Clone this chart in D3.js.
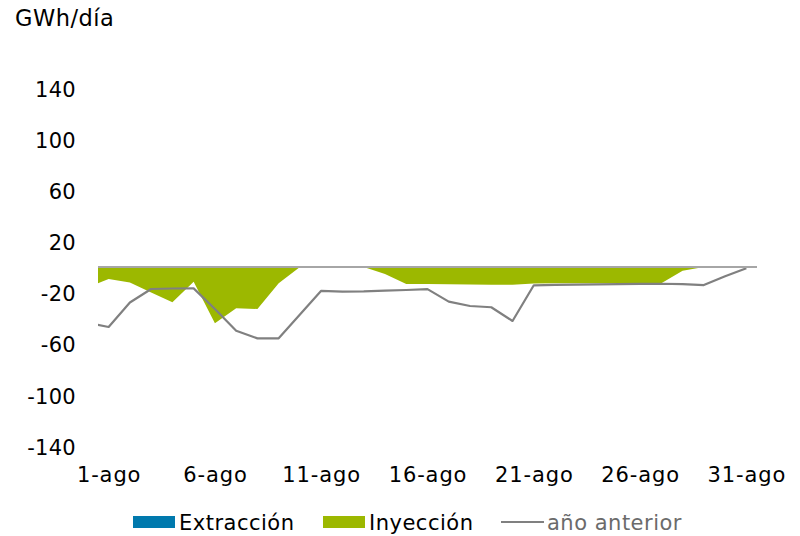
<!DOCTYPE html>
<html>
<head>
<meta charset="utf-8">
<script src="https://cdn.jsdelivr.net/npm/d3@7"></script>
<style>
  html, body { margin: 0; padding: 0; background: #ffffff; }
  svg { display: block; }
  text { font-family: "DejaVu Sans", Verdana, sans-serif; }
</style>
</head>
<body>
<svg id="chart" width="800" height="536"></svg>
<script>
// Daily values, GWh/día (index 0 is 31-jul, the day before the axis starts)
const dias = ["31-jul",
  "1-ago","2-ago","3-ago","4-ago","5-ago","6-ago","7-ago","8-ago","9-ago","10-ago",
  "11-ago","12-ago","13-ago","14-ago","15-ago","16-ago","17-ago","18-ago","19-ago","20-ago",
  "21-ago","22-ago","23-ago","24-ago","25-ago","26-ago","27-ago","28-ago","29-ago","30-ago","31-ago"];

const extraccion = [0,
  0,0,0,0,0,0,0,0,0,0,
  0,0,0,0,0,0,0,0,0,0,
  0,0,0,0,0,0,0,0,0,0,0];

const inyeccion = [-16.1,
  -9.4,-12.1,-19.9,-27.6,-11.5,-44.0,-32.3,-32.8,-12.7,0,
  0,0,0,-5.5,-13.3,-13.3,-13.5,-13.7,-13.8,-13.8,
  -12.9,-12.7,-12.7,-12.7,-12.7,-12.7,-12.7,-2.9,0,0,0];

const anoAnterior = [-43.8,
  -46.9,-27.8,-17.2,-16.8,-16.7,-32.8,-49.8,-55.8,-55.8,-37.2,
  -18.6,-19.2,-19.0,-18.4,-18.0,-17.3,-27.1,-30.5,-31.5,-42.2,
  -14.3,-14.0,-13.8,-13.6,-13.4,-13.2,-13.1,-13.4,-14.1,-7.2,-1.0];

const yTicks = [140, 100, 60, 20, -20, -60, -100, -140];
const xTickLabels = ["1-ago","6-ago","11-ago","16-ago","21-ago","26-ago","31-ago"];

const unidad = "GWh/día";
const leyenda = [
  { nombre: "Extracción", tipo: "area", color: "#0079ad", texto: "#000000" },
  { nombre: "Inyección", tipo: "area", color: "#9cb800", texto: "#000000" },
  { nombre: "año anterior", tipo: "line", color: "#808080", texto: "#6b6b6b" }
];

const svg = d3.select("#chart");
const plot = { left: 98, right: 757, top: 88, bottom: 446 };

const x = d3.scaleLinear().domain([0.5, 31.5]).range([plot.left, plot.right]);
const y = d3.scaleLinear().domain([-140, 140]).range([plot.bottom, plot.top]);

svg.append("defs").append("clipPath").attr("id", "plotClip")
  .append("rect")
  .attr("x", plot.left).attr("y", plot.top)
  .attr("width", plot.right - plot.left).attr("height", plot.bottom - plot.top);

const g = svg.append("g").attr("clip-path", "url(#plotClip)");

const areaGen = d3.area()
  .x((d, i) => x(i))
  .y0(y(0))
  .y1(d => y(d));

g.append("path").datum(extraccion)
  .attr("d", areaGen).attr("fill", leyenda[0].color);

g.append("path").datum(inyeccion)
  .attr("d", areaGen).attr("fill", leyenda[1].color);

const lineGen = d3.line()
  .x((d, i) => x(i))
  .y(d => y(d));

g.append("path").datum(anoAnterior)
  .attr("d", lineGen)
  .attr("fill", "none")
  .attr("stroke", leyenda[2].color)
  .attr("stroke-width", 2.2)
  .attr("stroke-linejoin", "round");

// Zero line across the plot
svg.append("line")
  .attr("x1", plot.left).attr("x2", plot.right)
  .attr("y1", y(0)).attr("y2", y(0))
  .attr("stroke", "#a6a6a6").attr("stroke-width", 2);

// Y axis labels (no axis line), plain hyphen for negatives
const yAxis = d3.axisLeft(y).tickValues(yTicks).tickSize(0).tickPadding(0)
  .tickFormat(d => String(d));
const yAxisG = svg.append("g").attr("transform", "translate(76,1.5)").call(yAxis);
yAxisG.select(".domain").remove();
yAxisG.selectAll("text")
  .attr("font-family", "'DejaVu Sans', Verdana, sans-serif")
  .attr("font-size", 21).attr("letter-spacing", 0.3).attr("fill", "#000");

// X axis labels every five days, below the plot
const xLabelPos = xTickLabels.map(l => dias.indexOf(l));
const xAxis = d3.axisBottom(x).tickValues(xLabelPos).tickSize(0).tickPadding(0)
  .tickFormat(i => dias[i]);
const xAxisG = svg.append("g").attr("transform", "translate(0,467)").call(xAxis);
xAxisG.select(".domain").remove();
xAxisG.selectAll("text")
  .attr("font-family", "'DejaVu Sans', Verdana, sans-serif")
  .attr("font-size", 21).attr("letter-spacing", 0.9).attr("fill", "#000");

// Unit title
svg.append("text")
  .attr("x", 15).attr("y", 26)
  .attr("font-size", 22.5).attr("letter-spacing", 0.5).attr("fill", "#000")
  .text(unidad);

// Legend
const legendX = [133, 323, 501];
const legY = 522;
leyenda.forEach((item, k) => {
  const lx = legendX[k];
  if (item.tipo === "area") {
    svg.append("rect").attr("x", lx).attr("y", legY - 6)
      .attr("width", 42).attr("height", 12).attr("fill", item.color);
  } else {
    svg.append("line").attr("x1", lx).attr("x2", lx + 43)
      .attr("y1", legY).attr("y2", legY)
      .attr("stroke", item.color).attr("stroke-width", 2);
  }
  svg.append("text").attr("x", lx + 46).attr("y", legY + 7.5)
    .attr("font-size", 21).attr("letter-spacing", 0.5)
    .attr("fill", item.texto).text(item.nombre);
});
</script>
</body>
</html>
